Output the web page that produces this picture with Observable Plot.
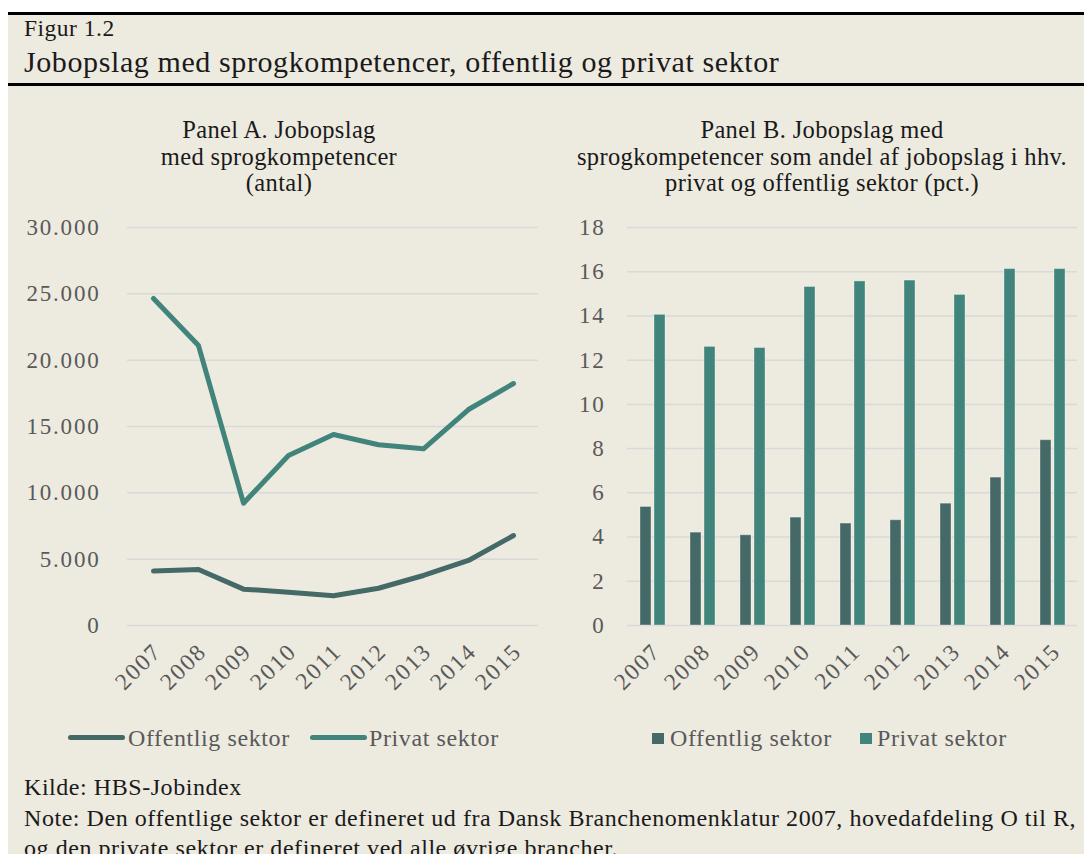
<!DOCTYPE html>
<html><head><meta charset="utf-8">
<script src="https://cdn.jsdelivr.net/npm/d3@7"></script>
<script src="https://cdn.jsdelivr.net/npm/@observablehq/plot@0.6"></script>
<style>
body{margin:0;background:#fff;font-family:"Liberation Serif",serif;width:1084px;height:854px;overflow:hidden;position:relative}
.abs{position:absolute}
#bg{left:8px;top:12px;width:1076px;height:842px;background:#EDEAE0}
.rule{left:8px;width:1076px;height:3px;background:#000}
.ptitle{text-align:center;font-size:24.5px;letter-spacing:0.35px;line-height:26.5px;color:#1a1a1a;white-space:nowrap}
.legtxt{font-size:24px;letter-spacing:0.6px;color:#595959;white-space:nowrap;line-height:24px;top:726px}
.sw-line{height:5px;border-radius:3px;top:735px;width:57px}
.sw-sq{width:12px;height:11px;top:733px}
#foot{left:24px;top:772px;font-size:24px;letter-spacing:0.55px;line-height:30.5px;color:#1a1a1a;white-space:nowrap}
.chart svg text{letter-spacing:1.8px}
</style></head>
<body>
<div id="bg" class="abs"></div>
<div class="abs rule" style="top:12px"></div>
<div class="abs rule" style="top:83px"></div>
<div class="abs" style="left:24px;top:15px;font-size:23.5px;letter-spacing:0.5px;line-height:26px;color:#1a1a1a">Figur 1.2</div>
<div class="abs" style="left:24px;top:46px;font-size:30px;letter-spacing:0.6px;line-height:32px;color:#1a1a1a;white-space:nowrap">Jobopslag med sprogkompetencer, offentlig og privat sektor</div>
<div class="abs ptitle" style="left:79px;width:400px;top:117px">Panel A. Jobopslag<br>med sprogkompetencer<br>(antal)</div>
<div class="abs ptitle" style="left:572px;width:500px;top:117px">Panel B. Jobopslag med<br>sprogkompetencer som andel af jobopslag i hhv.<br>privat og offentlig sektor (pct.)</div>
<div id="chartA" class="abs chart" style="left:60px;top:200px"></div>
<div id="chartB" class="abs chart" style="left:560px;top:200px"></div>
<div id="legend"></div>
<div id="foot" class="abs">Kilde: HBS-Jobindex<br>Note: Den offentlige sektor er defineret ud fra Dansk Branchenomenklatur 2007, hovedafdeling O til R,<br>og den private sektor er defineret ved alle øvrige brancher.</div>
<script>
const years = ["2007","2008","2009","2010","2011","2012","2013","2014","2015"];
const sectors = ["Offentlig sektor","Privat sektor"];
const colors = ["#456966","#41847B"];
// Panel A: antal jobopslag
const countOffentlig = [4100,4220,2740,2510,2240,2810,3770,4900,6780];
const countPrivat = [24650,21100,9220,12810,14400,13620,13320,16280,18240];
// Panel B: andel (pct.)
const pctOffentlig = [5.36,4.20,4.08,4.88,4.61,4.76,5.51,6.69,8.38];
const pctPrivat = [14.05,12.60,12.55,15.31,15.56,15.60,14.95,16.12,16.12];
const ticksA = [0,5000,10000,15000,20000,25000,30000];
const ticksB = [0,2,4,6,8,10,12,14,16,18];

const dk = d3.formatLocale({decimal:",",thousands:".",grouping:[3],currency:["",""]});
const fmtA = dk.format(",");

const lineData = [];
years.forEach((y,i)=>{lineData.push({year:y,sector:sectors[0],value:countOffentlig[i]});});
years.forEach((y,i)=>{lineData.push({year:y,sector:sectors[1],value:countPrivat[i]});});
const barData = [];
years.forEach((y,i)=>{
  barData.push({year:y,sector:sectors[0],value:pctOffentlig[i]});
  barData.push({year:y,sector:sectors[1],value:pctPrivat[i]});
});

const style = {background:"transparent",fontFamily:"'Liberation Serif',serif",fontSize:"23px",color:"#595959",overflow:"visible"};
const grid = {stroke:"#D9D9D9",strokeOpacity:1,strokeWidth:1.5};

const A = Plot.plot({
  width:490,height:505,marginLeft:67,marginRight:12,marginTop:27,marginBottom:80,
  style,
  x:{type:"point",domain:years,padding:0.5,label:null},
  y:{domain:[0,30000],label:null},
  color:{domain:sectors,range:colors},
  marks:[
    Plot.gridY(ticksA,grid),
    Plot.axisY(ticksA,{tickSize:0,tickPadding:27,tickFormat:fmtA,label:null,fill:"#595959"}),
    Plot.axisX({tickSize:0,tickRotate:-45,tickPadding:22,dx:4,label:null,fill:"#595959",fontSize:"23.5px"}),
    Plot.line(lineData,{x:"year",y:"value",stroke:"sector",strokeWidth:5,strokeLinejoin:"round",strokeLinecap:"round",curve:"linear"})
  ]
});
document.getElementById("chartA").appendChild(A);

const B = Plot.plot({
  width:524,height:505,marginLeft:63,marginRight:3,marginTop:27,marginBottom:80,
  style,
  fx:{domain:years,padding:0,label:null},
  x:{domain:sectors,paddingInner:0.233,paddingOuter:0.813,axis:null},
  y:{domain:[0,18],label:null},
  color:{domain:sectors,range:colors},
  marks:[
    Plot.gridY(ticksB,grid),
    Plot.axisY(ticksB,{tickSize:0,tickPadding:22,label:null,fill:"#595959"}),
    Plot.axisFx({anchor:"bottom",tickSize:0,tickRotate:-45,tickPadding:22,dx:4,label:null,fill:"#595959",fontSize:"23.5px"}),
    Plot.barY(barData,{fx:"year",x:"sector",y:"value",fill:"sector",stroke:"#ffffff",strokeOpacity:0.35,strokeWidth:1})
  ]
});
document.getElementById("chartB").appendChild(B);

// legends
const legPos = {
  line:[{sw:68,tx:128},{sw:310,tx:369}],
  sq:[{sw:652,tx:670},{sw:860,tx:877}]
};
let html = "";
sectors.forEach((s,i)=>{
  html += `<div class="abs sw-line" style="left:${legPos.line[i].sw}px;background:${colors[i]}"></div>`;
  html += `<div class="abs legtxt" style="left:${legPos.line[i].tx}px">${s}</div>`;
  html += `<div class="abs sw-sq" style="left:${legPos.sq[i].sw}px;background:${colors[i]}"></div>`;
  html += `<div class="abs legtxt" style="left:${legPos.sq[i].tx}px">${s}</div>`;
});
document.getElementById("legend").innerHTML = html;
</script>
</body></html>
